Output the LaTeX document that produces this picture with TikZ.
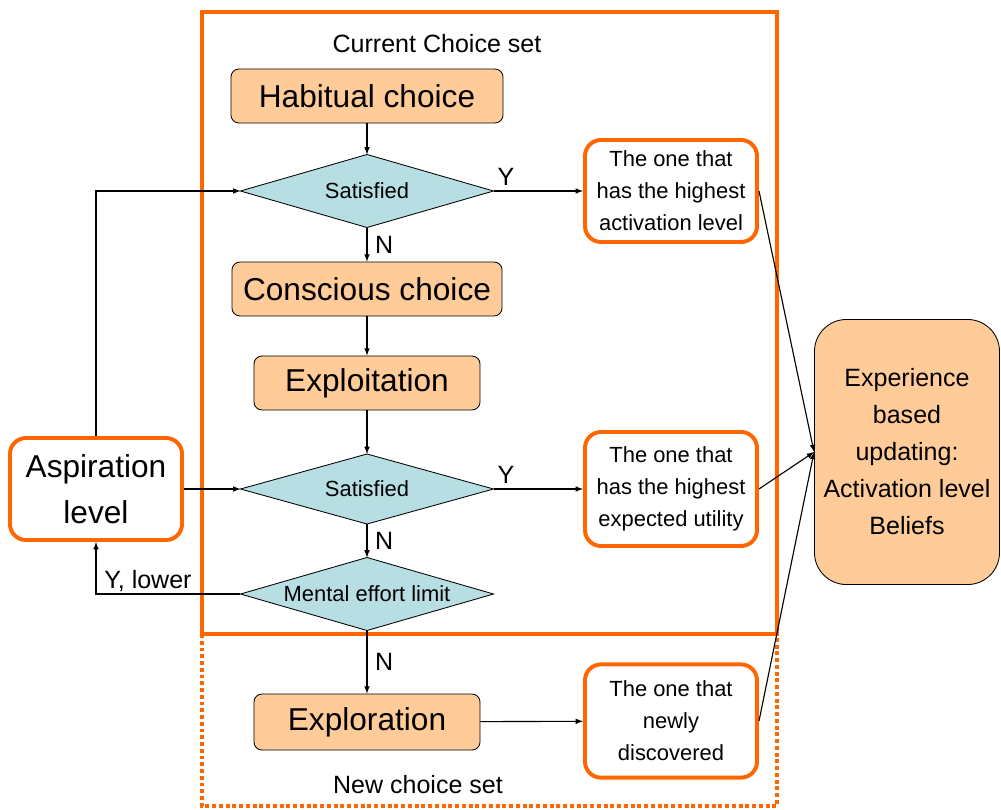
\documentclass[tikz,border=0pt]{standalone}
\usepackage{fontspec}
\setmainfont{Liberation Sans}
\usetikzlibrary{shapes.geometric}
\definecolor{peach}{HTML}{FFCC99}
\definecolor{pale}{RGB}{183,222,226}
\definecolor{orng}{HTML}{FF6600}

\begin{document}
\begin{tikzpicture}[x=0.025cm, y=-0.025cm,
	choice/.style={draw, fill=peach, rounded corners=0.2cm, line width=0.6pt, minimum height=1.35cm, font=\fontsize{22.5}{27}\selectfont},
	test/.style={diamond, draw, fill=pale, line width=0.6pt, inner sep=0pt, outer sep=0pt, aspect=3.47, minimum width=6.325cm, minimum height=1.825cm, font=\fontsize{15.6}{19}\selectfont},
	result/.style={draw=orng, line width=2.8pt, rounded corners=0.4cm, fill=white, align=center, minimum width=4.3cm, font=\fontsize{15.6}{22.8}\selectfont},
	flow/.style={line width=0.8pt, arrows={-latex}},
	tag/.style={font=\fontsize{17.8}{21}\selectfont}]

	\useasboundingbox (0,0) rectangle (1001,810);

	% choice set frames
	\draw [orng, line width=2.8pt] (202,12) rectangle (777,634);
	\draw [orng, line width=2.8pt, dash pattern=on 2.8pt off 2pt] (202,634) -- (202,806) -- (777,806) -- (777,634);
	\node [tag] (curset) at (437,44) {Current Choice set};
	\node [tag] (newset) at (418,785) {New choice set};

	% main column
	\node [choice, minimum width=6.8cm] (habit) at (367,96) {Habitual choice};
	\node [test] (sat1) at (367,191) {Satisfied};
	\node [choice, minimum width=6.75cm] (conscious) at (367,289) {Conscious choice};
	\node [choice, minimum width=5.65cm] (exploit) at (367,383) {Exploitation};
	\node [test, minimum height=1.75cm] (sat2) at (367,489) {Satisfied};
	\node [test] (limit) at (367,594) {Mental effort limit};
	\node [choice, minimum width=5.65cm, minimum height=1.4cm] (explore) at (367,722) {Exploration};

	% outcomes
	\node [result, minimum height=2.55cm] (high1) at (671,191) {The one that\\has the highest\\activation level};
	\node [result, minimum height=2.85cm] (high2) at (671,489) {The one that\\has the highest\\expected utility};
	\node [result, minimum height=2.83cm] (newly) at (671,721) {The one that\\newly\\discovered};
	\node [result, minimum height=2.55cm, font=\fontsize{22.5}{32.7}\selectfont] (asp) at (96,489) {Aspiration\\level};
	\node [draw, fill=peach, line width=0.6pt, rounded corners=0.8cm, align=center, minimum width=4.625cm, minimum height=6.625cm, font=\fontsize{17.8}{26.3}\selectfont] (exper) at (907,452) {Experience\\based\\updating:\\Activation level\\Beliefs};

	% connectors
	\draw [flow] (habit) -- (sat1);
	\draw [flow] (sat1) -- (conscious) node [midway, right=2pt, tag] {N};
	\draw [flow] (conscious) -- (exploit);
	\draw [flow] (exploit) -- (sat2);
	\draw [flow] (sat2) -- (limit) node [midway, right=2pt, tag] {N};
	\draw [flow] (limit) -- (explore) node [midway, right=2pt, tag] {N};
	\draw [flow] (sat1.east) -- (high1.west) node [pos=0.14, above, tag] {Y};
	\draw [flow] (sat2.east) -- (high2.west) node [pos=0.14, above, tag] {Y};
	\draw [flow] (explore) -- (newly);
	\draw [flow] (asp.north) |- (sat1.west);
	\draw [flow] (asp.east) -- (sat2.west);
	\draw [flow] (limit.west) -| (asp.south) node [pos=0.32, above, inner sep=1pt, tag] {Y, lower};
	\draw [flow] (high1.east) -- (exper.west);
	\draw [flow] (high2.east) -- (exper.west);
	\draw [flow] (newly.east) -- (exper.west);

\end{tikzpicture}
\end{document}
